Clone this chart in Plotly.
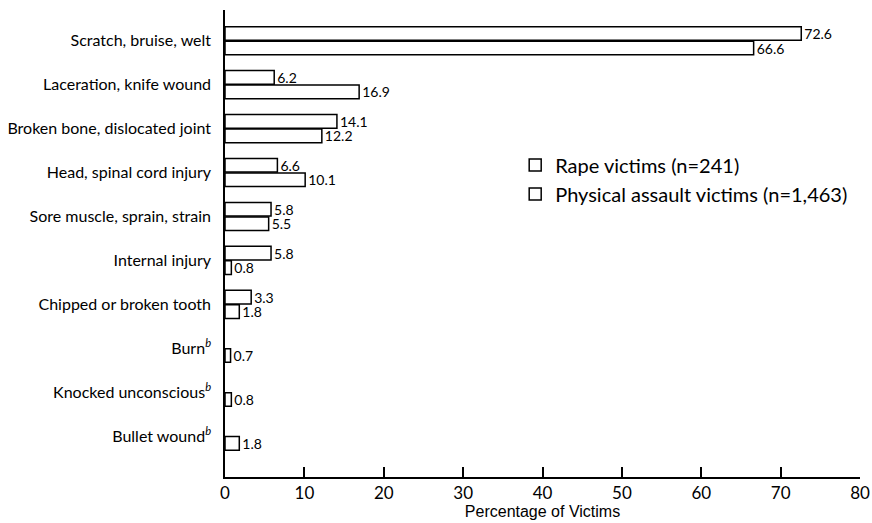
import plotly.graph_objects as go

categories = [
    "Scratch, bruise, welt",
    "Laceration, knife wound",
    "Broken bone, dislocated joint",
    "Head, spinal cord injury",
    "Sore muscle, sprain, strain",
    "Internal injury",
    "Chipped or broken tooth",
    "Burn<sup><i>b</i></sup>",
    "Knocked unconscious<sup><i>b</i></sup>",
    "Bullet wound<sup><i>b</i></sup>",
]
rape = [72.6, 6.2, 14.1, 6.6, 5.8, 5.8, 3.3, None, None, None]
assault = [66.6, 16.9, 12.2, 10.1, 5.5, 0.8, 1.8, 0.7, 0.8, 1.8]
x_ticks = [0, 10, 20, 30, 40, 50, 60, 70, 80]

FONT = "Lato, 'Noto Sans', sans-serif"

fig = go.Figure()
for name, vals in [("Rape victims (n=241)", rape),
                   ("Physical assault victims (n=1,463)", assault)]:
    fig.add_trace(go.Bar(
        y=categories, x=vals, orientation="h", name=name,
        marker=dict(color="white", line=dict(color="black", width=1.5)),
        texttemplate="%{x:.1f}", textposition="outside", cliponaxis=False,
        constraintext="none",
        textfont=dict(size=14, color="black", family=FONT),
    ))

fig.update_layout(
    width=872, height=523,
    paper_bgcolor="white", plot_bgcolor="white",
    margin=dict(l=225, r=12, t=10, b=46),
    barmode="group", bargap=0.34, bargroupgap=0.06,
    font=dict(family=FONT, color="black", size=15),
    showlegend=True,
    legend=dict(x=0.457, y=0.71, xanchor="left", yanchor="top",
                font=dict(size=20, family=FONT), bgcolor="rgba(0,0,0,0)",
                tracegroupgap=6, itemwidth=30),
    xaxis=dict(range=[0, 80], tickvals=x_ticks, ticks="inside", ticklen=10,
               tickwidth=1.5, tickcolor="black", showline=True, linecolor="black",
               linewidth=1.5, showgrid=False, zeroline=False, automargin=False,
               tickfont=dict(size=17, family=FONT),
               title=dict(text="Percentage of Victims",
                          font=dict(size=16, family="Liberation Sans, Arial, sans-serif"),
                          standoff=0)),
    yaxis=dict(type="category", range=[9.93, -0.7], showline=True, linecolor="black",
               linewidth=1.5, ticks="", showgrid=False, zeroline=False, automargin=False,
               tickfont=dict(size=16, family=FONT), ticklabelstandoff=9),
)

# remove the browser's default 8px body margin so the figure fills the window exactly
fig.write_html(
    "out.html",
    config={"displayModeBar": False},
    post_script="document.body.style.margin='0';document.body.style.overflow='hidden';",
)
